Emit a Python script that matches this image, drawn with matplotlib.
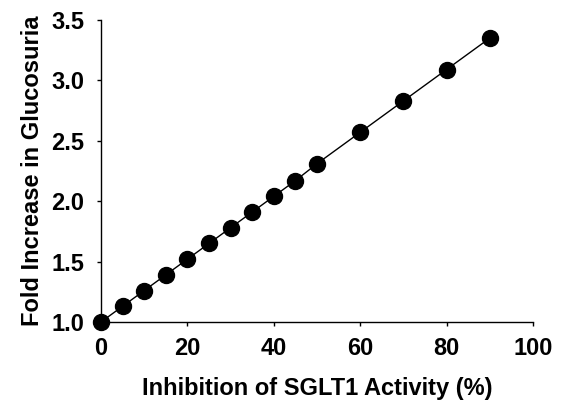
import matplotlib
matplotlib.use("Agg")
import matplotlib.pyplot as plt

# SGLT1 inhibition (%) vs fold increase in glucosuria
inhibition = [0, 5, 10, 15, 20, 25, 30, 35, 40, 45, 50, 60, 70, 80, 90]
fold_increase = [1.00, 1.13, 1.26, 1.39, 1.52, 1.65, 1.78, 1.91, 2.04, 2.17,
                 2.31, 2.57, 2.83, 3.09, 3.35]

x_ticks = [0, 20, 40, 60, 80, 100]
y_ticks = [1.0, 1.5, 2.0, 2.5, 3.0, 3.5]

plt.rcParams['font.family'] = ['Liberation Sans', 'DejaVu Sans']
plt.rcParams['font.weight'] = 'bold'

fig = plt.figure(figsize=(5.61, 4.0), dpi=100)
ax = fig.add_axes([0.180, 0.195, 0.770, 0.755])

ax.plot(inhibition, fold_increase, color='black', linewidth=1.0,
        marker='o', markersize=11.5, markerfacecolor='black',
        markeredgecolor='black', clip_on=False, zorder=3)

ax.set_xlim(0, 100)
ax.set_ylim(1.0, 3.5)
ax.set_xticks(x_ticks)
ax.set_yticks(y_ticks)
ax.set_xticklabels([str(v) for v in x_ticks])
ax.set_yticklabels(['%.1f' % v for v in y_ticks])

for side in ['top', 'right']:
    ax.spines[side].set_visible(False)
for side in ['left', 'bottom']:
    ax.spines[side].set_linewidth(1.0)

ax.tick_params(axis='both', direction='out', length=3, width=1.0,
               labelsize=17)
ax.tick_params(axis='x', pad=8)
ax.tick_params(axis='y', pad=9)
for lbl in ax.get_xticklabels() + ax.get_yticklabels():
    lbl.set_fontweight('bold')

ax.set_xlabel("Inhibition of SGLT1 Activity (%)", fontsize=17,
              fontweight='bold', labelpad=12)
ax.set_ylabel("Fold Increase in Glucosuria", fontsize=17,
              fontweight='bold', labelpad=5)

fig.savefig('out.png', dpi=100)
